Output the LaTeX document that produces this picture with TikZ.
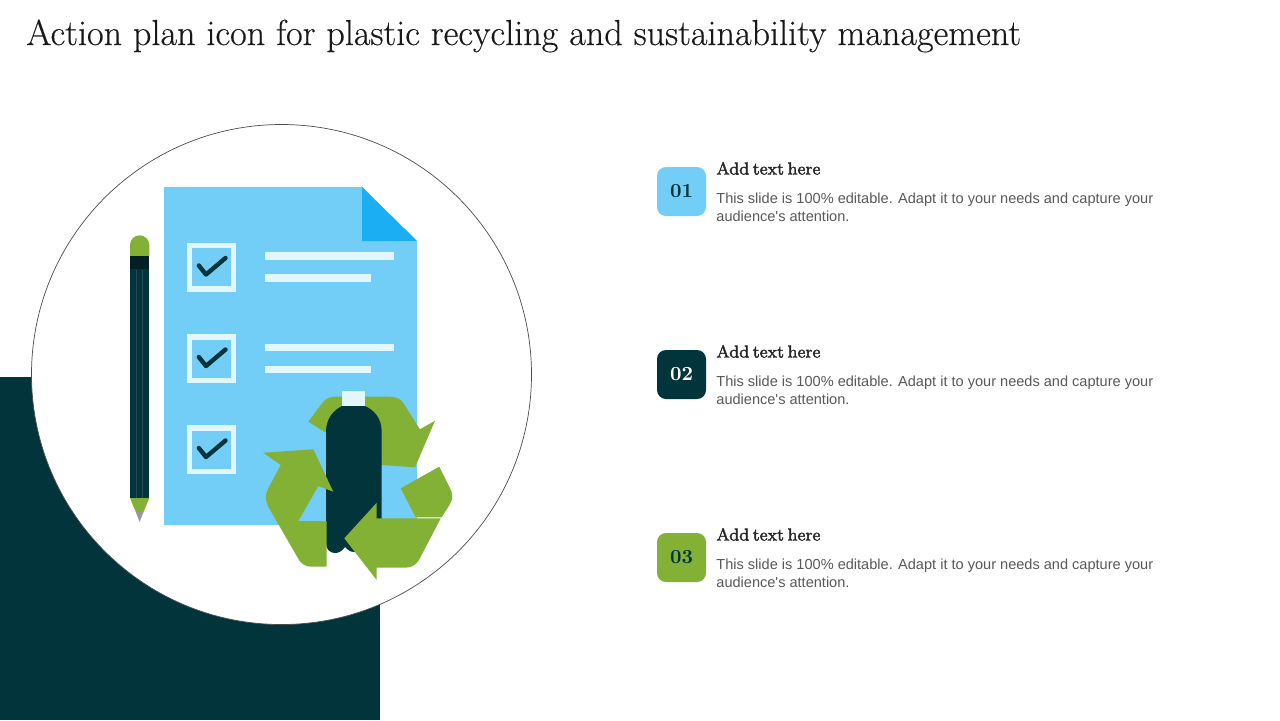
\documentclass[tikz,border=0pt]{standalone}
\usepackage{fontspec}
\newfontfamily\bodyfont{Liberation Sans}
\newfontfamily\headfont[FakeBold=2,WordSpace=0.6]{Latin Modern Roman}
\newfontfamily\titlefont[FakeBold=0.35]{Latin Modern Roman}
\definecolor{deep}{HTML}{02353B}
\definecolor{sky}{HTML}{72CDF7}
\definecolor{fold}{HTML}{1CAEF2}
\definecolor{leaf}{HTML}{82B135}
\definecolor{pale}{HTML}{E2F7FD}
\definecolor{bodygray}{HTML}{595959}
\tikzset{
  x=0.5pt,y=-0.5pt,
  badge/.style={rounded corners=4.5pt,minimum width=24.5pt,minimum height=24.5pt,inner sep=0pt,font=\bfseries\fontsize{10}{10}\selectfont},
  headtxt/.style={anchor=base west,inner sep=0pt,font=\headfont\fontsize{8.7}{10}\selectfont,text=black!85},
  bodytxt/.style={anchor=base west,inner sep=0pt,align=left,text=bodygray,font=\bodyfont\fontsize{7.28}{9}\selectfont},
  paleline/.style={fill=pale},
  tick/.style={draw=deep,line width=2.2pt,line join=round,line cap=round},
  box/.style={draw=pale,line width=2.6pt},
}
\begin{document}
\begin{tikzpicture}
\useasboundingbox (0,0) rectangle (1280,720);
\fill[white] (0,0) rectangle (1280,720);
\fill[deep] (0,377) rectangle (380,720);
\draw[fill=white,draw=black!70,line width=0.35pt] (281.5,374.5) circle[radius=250];
\node[anchor=base west,inner sep=0pt,font=\titlefont\fontsize{18.07}{20}\selectfont,text=black!90] (title) at (26,45) {Action plan icon for plastic recycling and sustainability management};
% document
\fill[sky] (164,187) -- (362,187) -- (417,241) -- (417,525) -- (164,525) -- cycle;
\fill[fold] (362,187) -- (417,241) -- (362,241) -- cycle;
% checkboxes
\foreach \y in {243,334.5,425.5}{
  \draw[box] (189.5,\y+2.5) rectangle (233.5,\y+46);
  \draw[tick] (198.8,\y+22.5) -- (206,\y+31.5) -- (225.5,\y+15);
}
\fill[paleline] (264.7,252.3) rectangle (394,260);
\fill[paleline] (264.7,274) rectangle (371,281.7);
\fill[paleline] (264.7,344) rectangle (394,351);
\fill[paleline] (264.7,366) rectangle (371,373.3);
% pencil
\fill[leaf] (130,256) -- (130,245) arc[start angle=180,end angle=360,radius=9.65] -- (149.3,256) -- cycle;
\fill[deep] (130,256) rectangle (149.3,498);
\fill[black!40!deep] (130,256) rectangle (149.3,268.5);
\draw[white!12!deep,line width=0.25pt] (136.7,270) -- (136.7,498) (142.7,270) -- (142.7,498);
\fill[leaf] (130,498) -- (149.3,498) -- (143.5,512) -- (135.8,512) -- cycle;
\fill[black!40] (135.8,512) -- (143.5,512) -- (139.6,522) -- cycle;
% top arrow
\fill[leaf] (308.3,421.7) -- (323,402) .. controls (326,398.5) and (330,396.7) .. (335,396.7) -- (390,396.7) .. controls (396,396.7) and (401,399) .. (404,404) -- (420,429.3) -- (435,420.7) -- (415,467.3) -- (381.7,465) -- (326,432.7) -- cycle;
% bottle
\fill[deep] (326,432) .. controls (326,418) and (334,410) .. (342,406) -- (365,406) .. controls (374,410) and (381.7,418) .. (381.7,432) -- (381.7,518) -- (381.7,545) -- (354,552) .. controls (350,552) and (347,549) .. (345,547) .. controls (342,551) and (339,553) .. (335,553) .. controls (330,553) and (326,549) .. (326,544) -- cycle;
\fill[pale] (341.7,390.7) rectangle (365,406);
% left arrow
\fill[leaf] (263.3,452.7) -- (313.3,449.3) -- (333.3,491.7) -- (318.3,486) -- (298.3,521) -- (326.7,521) -- (326.7,566.7) -- (312,566.7) .. controls (305,566.7) and (302,564) .. (299,560) -- (268.3,506.7) .. controls (265,500) and (265,494) .. (268.3,488.3) -- (280.7,465) -- cycle;
% bottom arrow
\fill[leaf] (376.7,502.7) -- (344.3,538.3) -- (376.7,580) -- (376.7,567.7) -- (404,567.7) .. controls (411,567.7) and (415,566) .. (419,560) -- (440.7,518.3) -- (376.7,518.3) -- cycle;
% right piece
\fill[leaf] (400.7,488.3) -- (439.3,466.7) -- (450,488) .. controls (453,494) and (453,499) .. (450,504) -- (441.7,517.3) -- (415.7,517.3) -- cycle;
% list
\node[badge,fill=sky,text=deep] (b1) at (681.5,191.5) {01};
\node[badge,fill=deep,text=white] (b2) at (681.5,374.5) {02};
\node[badge,fill=leaf,text=deep] (b3) at (681.5,557.5) {03};
\node[headtxt] (h1) at (716,174.5) {Add text here};
\node[headtxt] (h2) at (716,357.5) {Add text here};
\node[headtxt] (h3) at (716,540.5) {Add text here};
\node[bodytxt] (t1) at (716,221) {This slide is 100\% editable. Adapt it to your needs and capture your\\audience's attention.};
\node[bodytxt] (t2) at (716,404) {This slide is 100\% editable. Adapt it to your needs and capture your\\audience's attention.};
\node[bodytxt] (t3) at (716,587) {This slide is 100\% editable. Adapt it to your needs and capture your\\audience's attention.};
\end{tikzpicture}
\end{document}
